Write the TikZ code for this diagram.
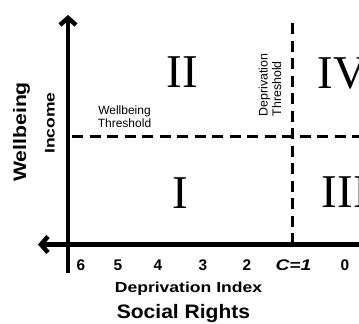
\documentclass[tikz,border=0pt]{standalone}
\usepackage{fontspec}
\setmainfont{Liberation Sans}
\newfontfamily\romanfont{Liberation Serif}
\usetikzlibrary{arrows.meta}
\begin{document}
\begin{tikzpicture}[x=1pt,y=-1pt,
  axisline/.style={line width=4.5pt,-{Straight Barb[length=7pt,width=16pt]}},
  thresh/.style={line width=3pt,dash pattern=on 11pt off 6.5pt},
  quad/.style={font=\romanfont\fontsize{47}{47}\selectfont,inner sep=0pt},
  ticklbl/.style={font=\bfseries\fontsize{15.4}{16}\selectfont,inner sep=0pt,anchor=base},
  small/.style={font=\fontsize{12}{12.5}\selectfont,inner sep=0pt,align=center},
  boldlbl/.style={font=\bfseries,inner sep=0pt,anchor=base}
]
\path[use as bounding box,clip] (0,0) rectangle (359,324);
\fill[white] (0,0) rectangle (359,324);
% coordinates
\coordinate (vtop) at (68,15);
\coordinate (vbot) at (68,273);
\coordinate (hleft) at (38,244.5);
\coordinate (hright) at (370,244.5);
\coordinate (dtop) at (292,23);
\coordinate (dbot) at (292,243);
\coordinate (wleft) at (72,136);
\coordinate (wright) at (370,136);
% thresholds
\draw[thresh] (dtop) -- (dbot);
\draw[thresh] (wleft) -- (wright);
% axes
\draw[axisline] (vbot) -- (vtop);
\draw[axisline] (hright) -- (hleft);
% quadrants
\node[quad] (q2) at (182,72) {II};
\node[quad] (q1) at (180,193) {I};
\node[quad,anchor=west] (q4) at (317.5,73) {IV};
\node[quad,anchor=west] (q3) at (321.5,192.5) {III};
% threshold labels
\node[small] (wt) at (124.5,116.5) {Wellbeing\\Threshold};
\node[small,align=left,rotate=90,font=\fontsize{12.4}{13.5}\selectfont] (dt) at (270,85) {Deprivation\\Threshold};
% axis labels
\node[inner sep=0pt,rotate=90,font=\bfseries\fontsize{18}{18}\selectfont] (wb) at (21.5,132) {\scalebox{1.18}[1]{Wellbeing}};
\node[inner sep=0pt,rotate=90,font=\bfseries\fontsize{14}{14}\selectfont] (inc) at (50,123) {\scalebox{1.25}[1]{Income}};
% ticks
\node[ticklbl] (t6) at (81,270) {6};
\node[ticklbl] (t5) at (118,270) {5};
\node[ticklbl] (t4) at (158,270) {4};
\node[ticklbl] (t3) at (203,270) {3};
\node[ticklbl] (t2) at (247,270) {2};
\node[ticklbl,font=\bfseries\itshape\fontsize{15.4}{16}\selectfont] (tc) at (293.5,270) {\scalebox{1.25}[1]{C=1}};
\node[ticklbl] (t0) at (345,270) {0};
% bottom labels
\node[boldlbl,font=\bfseries\fontsize{14.5}{15}\selectfont] (di) at (188.5,292) {\scalebox{1.21}[1]{Deprivation Index}};
\node[boldlbl,font=\bfseries\fontsize{19.5}{20}\selectfont] (sr) at (183.5,318) {\scalebox{1.08}[1]{Social Rights}};
\end{tikzpicture}
\end{document}
